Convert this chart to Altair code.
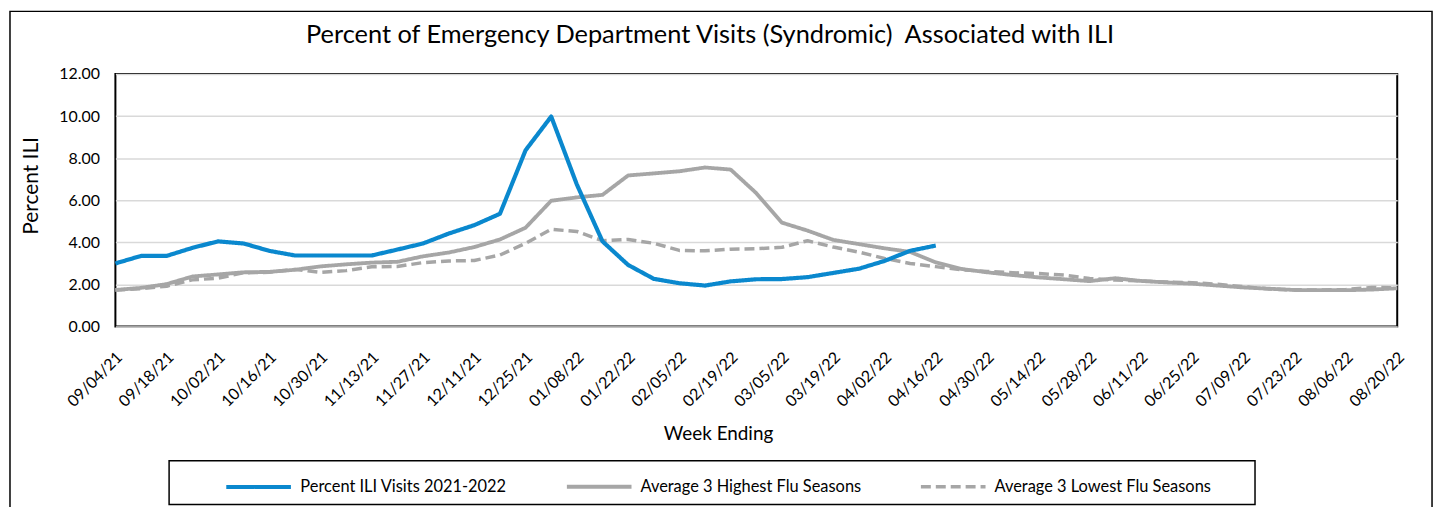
import altair as alt
import pandas as pd

weeks = ["09/04/21", "09/11/21", "09/18/21", "09/25/21", "10/02/21", "10/09/21", "10/16/21",
         "10/23/21", "10/30/21", "11/06/21", "11/13/21", "11/20/21", "11/27/21", "12/04/21",
         "12/11/21", "12/18/21", "12/25/21", "01/01/22", "01/08/22", "01/15/22", "01/22/22",
         "01/29/22", "02/05/22", "02/12/22", "02/19/22", "02/26/22", "03/05/22", "03/12/22",
         "03/19/22", "03/26/22", "04/02/22", "04/09/22", "04/16/22", "04/23/22", "04/30/22",
         "05/07/22", "05/14/22", "05/21/22", "05/28/22", "06/04/22", "06/11/22", "06/18/22",
         "06/25/22", "07/02/22", "07/09/22", "07/16/22", "07/23/22", "07/30/22", "08/06/22",
         "08/13/22", "08/20/22"]

ili_2021_2022 = [3.00, 3.36, 3.36, 3.74, 4.05, 3.95, 3.60, 3.38, 3.38, 3.38, 3.38, 3.66, 3.95,
                 4.42, 4.82, 5.36, 8.38, 9.98, 6.75, 4.05, 2.93, 2.27, 2.06, 1.95, 2.15, 2.25,
                 2.26, 2.35, 2.55, 2.75, 3.12, 3.60, 3.85]

avg_high = [1.74, 1.84, 2.02, 2.38, 2.48, 2.58, 2.60, 2.70, 2.86, 2.96, 3.04, 3.08, 3.34, 3.52,
            3.78, 4.14, 4.70, 5.98, 6.14, 6.26, 7.18, 7.28, 7.38, 7.56, 7.46, 6.34, 4.94, 4.56,
            4.12, 3.92, 3.72, 3.55, 3.05, 2.74, 2.58, 2.45, 2.34, 2.25, 2.16, 2.30, 2.17, 2.10,
            2.04, 1.95, 1.86, 1.80, 1.74, 1.73, 1.73, 1.76, 1.82]

avg_low = [1.74, 1.80, 1.92, 2.22, 2.30, 2.56, 2.58, 2.72, 2.58, 2.66, 2.84, 2.86, 3.04, 3.12,
           3.14, 3.40, 3.96, 4.62, 4.52, 4.08, 4.14, 3.96, 3.62, 3.60, 3.68, 3.70, 3.77, 4.08,
           3.78, 3.54, 3.24, 3.00, 2.85, 2.70, 2.62, 2.56, 2.52, 2.45, 2.29, 2.21, 2.17, 2.12,
           2.09, 2.01, 1.90, 1.79, 1.74, 1.74, 1.76, 1.86, 1.85]

S_BLUE = "Percent ILI Visits 2021-2022"
S_HIGH = "Average 3 Highest Flu Seasons"
S_LOW = "Average 3 Lowest Flu Seasons"
series_names = [S_BLUE, S_HIGH, S_LOW]
y_ticks = [0, 2, 4, 6, 8, 10, 12]
TITLE = "Percent of Emergency Department Visits (Syndromic)\u00a0 Associated with ILI"

rows = []
for name, vals in [(S_LOW, avg_low), (S_HIGH, avg_high), (S_BLUE, ili_2021_2022)]:
    for i, v in enumerate(vals):
        rows.append({"week": weeks[i], "idx": i, "value": v, "series": name})
df = pd.DataFrame(rows)

W, H = 1289, 254
FONT = "Lato"

legend = alt.Legend(
    title=None, orient="none", legendX=109, legendY=380, direction="horizontal",
    symbolType="stroke", symbolSize=4225, symbolStrokeWidth=4,
    labelFontSize=16.5, labelFont=FONT, labelColor="#000", labelOffset=7,
    columnPadding=52, padding=0, labelLimit=400,
)

lines = alt.Chart(df).mark_line(strokeCap="butt", strokeJoin="round").encode(
    x=alt.X("week:O", sort=weeks, scale=alt.Scale(type="point", padding=0),
            axis=alt.Axis(title="Week Ending", values=weeks[::2], labelAngle=-45,
                          labelAlign="right", labelBaseline="middle", labelPadding=28,
                          labelOffset=4, labelOverlap=False, ticks=False, domain=False,
                          grid=False, labelFontSize=16, titleFontSize=19,
                          titleX=606, titleY=114, titleBaseline="alphabetic",
                          titleFontWeight="normal")),
    y=alt.Y("value:Q", scale=alt.Scale(domain=[0, 12], nice=False),
            axis=alt.Axis(title="Percent ILI", values=y_ticks, format=".2f", ticks=False,
                          domain=False, grid=True, gridColor="#D9D9D9", gridWidth=1.5,
                          labelPadding=16, labelFontSize=16, titleFontSize=21,
                          titleFontWeight="normal", titleX=-84, titleY=112,
                          titleAlign="center", titleBaseline="middle")),
    color=alt.Color("series:N", scale=alt.Scale(domain=series_names,
                    range=["#0A88CE", "#A6A6A6", "#A6A6A6"]), legend=legend),
    strokeDash=alt.StrokeDash("series:N", scale=alt.Scale(domain=series_names,
                              range=[[1, 0], [1, 0], [10, 5]]), legend=legend),
    strokeWidth=alt.StrokeWidth("series:N", scale=alt.Scale(domain=series_names,
                                range=[4.2, 3.5, 3.5]), legend=None),
    order="idx:Q",
)

one = pd.DataFrame({"k": [0]})

legend_box = alt.Chart(one).mark_rect(
    fill="transparent", stroke="#000", strokeWidth=1.5
).encode(x=alt.value(54), x2=alt.value(1146), y=alt.value(389), y2=alt.value(433))

outer_box = alt.Chart(one).mark_rect(
    fill="transparent", stroke="#000", strokeWidth=1.5
).encode(x=alt.value(-106), x2=alt.value(1324), y=alt.value(-63), y2=alt.value(470))

title = alt.Chart(one).mark_text(
    fontSize=25.5, font=FONT, color="#000", align="center", baseline="middle"
).encode(x=alt.value(598), y=alt.value(-39), text=alt.value(TITLE))

chart = alt.layer(outer_box, legend_box, title, lines).properties(
    width=W, height=H,
    autosize=alt.AutoSizeParams(type="none"),
    padding={"left": 108, "top": 65, "right": 40, "bottom": 180},
).configure(font=FONT).configure_axis(
    labelColor="#000", titleColor="#000", labelFont=FONT, titleFont=FONT
).configure_view(stroke="#000", strokeWidth=2)

chart.save("out.html", embed_options={"renderer": "svg", "actions": False})
